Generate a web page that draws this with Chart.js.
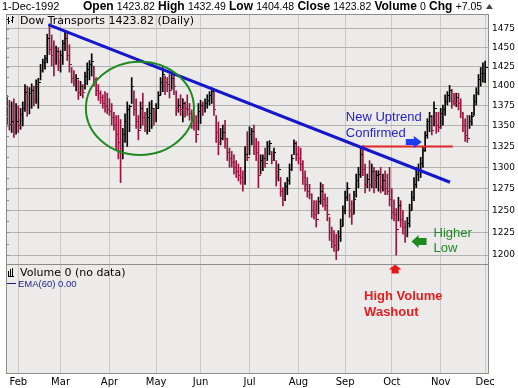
<!DOCTYPE html>
<html>
<head>
<meta charset="utf-8">
<script src="https://cdn.jsdelivr.net/npm/chart.js@4/dist/chart.umd.min.js"></script>
<style>
  html, body { margin: 0; padding: 0; background: #fff; }
  canvas { display: block; }
</style>
</head>
<body>
<canvas id="c" width="518" height="388"></canvas>
<script>
// daily bars, 27-Jan-1992 .. 1-Dec-1992 (index = trading day)
const highs = [
  1388,1382,1380,1384,1378,1375,1372,1380,1402,1400,1398,1403,1400,1408,1410,1428,1435,1440,1468,1481,
  1467,1459,1452,1450,1446,1460,1472,1470,1454,1424,1420,1415,1408,1406,1402,1418,1430,1433,1442,1426,
  1411,1402,1394,1389,1393,1391,1384,1378,1367,1363,1363,1358,1347,1365,1380,1376,1411,1394,1384,1363,
  1380,1391,1367,1372,1380,1382,1372,1378,1393,1411,1424,1413,1411,1415,1418,1415,1394,1384,1389,1384,
  1380,1389,1378,1370,1367,1363,1378,1382,1380,1384,1389,1393,1398,1393,1363,1355,1347,1351,1357,1335,
  1323,1319,1315,1308,1304,1300,1296,1325,1343,1349,1347,1351,1335,1331,1315,1315,1323,1331,1332,1319,
  1323,1308,1304,1288,1276,1282,1288,1304,1315,1333,1331,1325,1323,1308,1296,1288,1280,1269,1261,1261,
  1265,1282,1280,1269,1265,1242,1231,1227,1223,1227,1240,1255,1272,1282,1269,1261,1272,1292,1300,1323,
  1326,1304,1292,1308,1304,1300,1296,1296,1300,1292,1296,1292,1300,1275,1262,1252,1265,1261,1250,1238,
  1242,1257,1272,1288,1300,1304,1312,1325,1343,1359,1367,1363,1380,1367,1367,1372,1376,1389,1393,1401,
  1396,1391,1391,1391,1384,1367,1359,1363,1363,1367,1389,1398,1415,1424,1430,1432.49
];
const lows = [
  1352,1345,1342,1336,1340,1342,1346,1350,1368,1362,1365,1372,1375,1378,1372,1408,1418,1422,1430,1441,
  1426,1413,1428,1420,1418,1428,1446,1433,1418,1404,1400,1394,1383,1388,1385,1396,1402,1408,1413,1400,
  1388,1382,1378,1372,1367,1365,1363,1351,1345,1320,1310,1282,1310,1330,1325,1343,1378,1363,1347,1333,
  1347,1351,1343,1340,1343,1347,1351,1355,1372,1389,1393,1389,1393,1385,1396,1389,1363,1367,1363,1355,
  1361,1363,1357,1347,1345,1330,1345,1353,1363,1367,1372,1376,1378,1363,1330,1315,1327,1333,1323,1308,
  1300,1300,1292,1288,1284,1280,1272,1280,1308,1315,1327,1315,1308,1276,1292,1296,1300,1308,1315,1304,
  1308,1278,1284,1266,1255,1261,1268,1280,1296,1315,1308,1304,1296,1280,1272,1265,1263,1242,1240,1231,
  1246,1257,1254,1250,1238,1216,1208,1204,1195,1206,1215,1232,1246,1261,1242,1234,1246,1265,1276,1288,
  1290,1270,1276,1272,1276,1270,1276,1272,1270,1272,1268,1268,1255,1240,1238,1200,1238,1231,1223,1214,
  1220,1231,1250,1261,1276,1284,1288,1300,1319,1335,1343,1339,1350,1341,1343,1347,1351,1363,1376,1380,
  1372,1376,1374,1370,1360,1343,1331,1330,1347,1351,1363,1376,1389,1400,1405,1404.48
];
const closes = [
  1362,1352,1356,1348,1355,1350,1364,1372,1392,1385,1390,1395,1383,1400,1405,1420,1430,1436,1462,1448,
  1440,1435,1445,1430,1440,1455,1462,1440,1428,1410,1406,1410,1392,1400,1392,1412,1422,1428,1432,1408,
  1395,1390,1386,1378,1374,1370,1368,1360,1350,1340,1330,1322,1340,1355,1370,1374,1400,1370,1355,1345,
  1372,1360,1350,1360,1365,1372,1360,1372,1388,1405,1415,1405,1402,1395,1410,1400,1372,1375,1370,1378,
  1372,1370,1365,1355,1350,1340,1368,1375,1372,1378,1382,1388,1393,1370,1342,1330,1335,1342,1335,1318,
  1310,1306,1300,1295,1290,1288,1282,1315,1312,1340,1343,1325,1318,1290,1308,1310,1305,1325,1328,1308,
  1318,1288,1298,1272,1262,1278,1284,1298,1310,1328,1315,1310,1303,1288,1280,1272,1268,1250,1245,1240,
  1260,1272,1262,1255,1245,1225,1215,1210,1205,1220,1232,1250,1265,1275,1250,1245,1262,1285,1292,1315,
  1298,1280,1286,1280,1295,1285,1290,1292,1278,1285,1275,1272,1262,1248,1245,1228,1255,1240,1230,1222,
  1235,1250,1265,1280,1292,1298,1305,1320,1338,1355,1362,1345,1372,1350,1348,1365,1370,1380,1388,1395,
  1380,1378,1385,1378,1365,1350,1338,1335,1355,1362,1380,1392,1408,1416,1416.77,1423.82
];

const monthIdx = [5, 24, 46, 67, 87, 109, 131, 152, 173, 195, 215];
const monthLbl = ['Feb', 'Mar', 'Apr', 'May', 'Jun', 'Jul', 'Aug', 'Sep', 'Oct', 'Nov', 'Dec'];
const priceTicks = [1200, 1225, 1250, 1275, 1300, 1325, 1350, 1375, 1400, 1425, 1450, 1475];

// annotations, in (bar index, price)
const trendLine = [{ x: 18.5, y: 1481 }, { x: 199.2, y: 1282.4 }];
const confirmLine = [{ x: 159.9, y: 1325 }, { x: 200.4, y: 1325 }];
const circleBox = [35.4, 84.0, 1431.6, 1314.7];
const blueArrowTip = [186.5, 1330.5];
const greenArrowTip = [181.9, 1214.8];
const redArrowX = 174.5;

const UP = '#000000';
const DOWN = '#9a1442';
const isUp = closes.map((c, i) => i > 0 && c > closes[i - 1]);

function tickImg(color) {
  const c = document.createElement('canvas');
  c.width = 5; c.height = 1;
  const g = c.getContext('2d');
  g.fillStyle = color;
  g.fillRect(3, 0, 2, 1);
  return c;
}
const tickUp = tickImg(UP);
const tickDown = tickImg(DOWN);

const panelPlugin = {
  id: 'panels',
  beforeDraw(chart) {
    const { ctx, chartArea: a } = chart;
    ctx.save();
    ctx.fillStyle = '#fff';
    ctx.fillRect(0, 0, chart.width, chart.height);
    ctx.fillStyle = '#ecebea';
    ctx.fillRect(a.left, a.top, a.right - a.left, a.bottom - a.top);
    ctx.restore();
  },
  afterDraw(chart) {
    const { ctx, chartArea: a } = chart;
    const ys = chart.scales.y;
    ctx.save();
    ctx.strokeStyle = '#8c8c8c';
    ctx.lineWidth = 1;
    ctx.strokeRect(a.left + 0.5, a.top + 0.5, a.right - a.left - 1, ys.bottom - a.top);
    ctx.strokeRect(a.left + 0.5, ys.bottom + 0.5, a.right - a.left - 1, a.bottom - ys.bottom - 1);

    // small marks on the left edge of the price pane
    ctx.fillStyle = '#8c8c8c';
    for (let i = 0; i < priceTicks.length; i++) {
      const yy = Math.round(ys.getPixelForValue(priceTicks[i]));
      ctx.fillRect(a.left + 1, yy, 2, 1);
      if (i > 0) {
        const ym = Math.round((yy + ys.getPixelForValue(priceTicks[i - 1])) / 2);
        ctx.fillRect(a.left + 1, ym, 2, 1);
      }
    }

    // header line
    ctx.fillStyle = '#000';
    ctx.textBaseline = 'alphabetic';
    ctx.font = '11px "Liberation Sans", Arial, sans-serif';
    ctx.fillText('1-Dec-1992', 2, 10);
    const parts = [['Open', 1], ['1423.82', 0], ['High', 1], ['1432.49', 0], ['Low', 1], ['1404.48', 0],
      ['Close', 1], ['1423.82', 0], ['Volume', 1], ['0', 0], ['Chg', 1], ['+7.05', 0]];
    let x = 83;
    for (const [t, b] of parts) {
      ctx.font = b ? 'bold 12px "Liberation Sans", Arial, sans-serif' : '10.5px "Liberation Sans", Arial, sans-serif';
      ctx.fillText(t, x, 10);
      x += ctx.measureText(t).width + 3.2;
    }
    ctx.fillStyle = '#444';
    ctx.beginPath();
    ctx.moveTo(x + 0.5, 9); ctx.lineTo(x + 7.5, 9); ctx.lineTo(x + 4, 4); ctx.closePath(); ctx.fill();

    // panel legends
    ctx.fillStyle = '#000';
    ctx.fillRect(8, 17, 1, 7); ctx.fillRect(7, 19, 1, 1); ctx.fillRect(9, 21, 1, 1);
    ctx.fillRect(12, 16, 1, 7); ctx.fillRect(11, 20, 1, 1); ctx.fillRect(13, 17, 1, 1);
    ctx.font = '11px "DejaVu Sans", sans-serif';
    ctx.fillText('Dow Transports 1423.82 (Daily)', 20, 24);
    const vt = ys.bottom;
    ctx.fillRect(8, vt + 7, 1, 5); ctx.fillRect(10, vt + 5, 1, 7); ctx.fillRect(12, vt + 4, 1, 8); ctx.fillRect(8, vt + 12, 6, 1);
    ctx.fillText('Volume 0 (no data)', 20, vt + 12);
    ctx.fillStyle = '#1c1c8c';
    ctx.fillRect(7, vt + 19, 9, 1);
    ctx.font = '9.5px "Liberation Sans", Arial, sans-serif';
    ctx.fillText('EMA(60) 0.00', 18, vt + 23);
    ctx.restore();
  }
};

function arrow(ctx, tipX, tipY, dir, len, headLen, headW, shaftW, color) {
  // dir: 'right' | 'left' | 'up'
  ctx.save();
  ctx.translate(tipX, tipY);
  ctx.rotate(dir === 'right' ? 0 : dir === 'left' ? Math.PI : -Math.PI / 2);
  ctx.fillStyle = color;
  ctx.beginPath();
  ctx.moveTo(0, 0);
  ctx.lineTo(-headLen, -headW / 2);
  ctx.lineTo(-headLen, -shaftW / 2);
  ctx.lineTo(-len, -shaftW / 2);
  ctx.lineTo(-len, shaftW / 2);
  ctx.lineTo(-headLen, shaftW / 2);
  ctx.lineTo(-headLen, headW / 2);
  ctx.closePath();
  ctx.fill();
  ctx.restore();
}

const notesPlugin = {
  id: 'notes',
  afterDatasetsDraw(chart) {
    const { ctx } = chart;
    const xs = chart.scales.x, ys = chart.scales.y;
    ctx.save();
    // circle round the spring congestion
    const x0 = xs.getPixelForValue(circleBox[0]), x1 = xs.getPixelForValue(circleBox[1]);
    const y0 = ys.getPixelForValue(circleBox[2]), y1 = ys.getPixelForValue(circleBox[3]);
    ctx.strokeStyle = '#1f8a1f';
    ctx.lineWidth = 2;
    ctx.beginPath();
    ctx.ellipse((x0 + x1) / 2, (y0 + y1) / 2, (x1 - x0) / 2, (y1 - y0) / 2, 0, 0, Math.PI * 2);
    ctx.stroke();

    const bx = xs.getPixelForValue(blueArrowTip[0]), by = ys.getPixelForValue(blueArrowTip[1]);
    arrow(ctx, bx, by, 'right', 16, 8, 12, 6, '#1e3cf0');
    ctx.fillStyle = '#2424c4';
    ctx.font = '13px "Liberation Sans", Arial, sans-serif';
    ctx.fillText('New Uptrend', bx - 76, by - 21);
    ctx.fillText('Confirmed', bx - 76, by - 5);

    const gx = xs.getPixelForValue(greenArrowTip[0]), gy = ys.getPixelForValue(greenArrowTip[1]);
    arrow(ctx, gx, gy, 'left', 15, 7, 13, 7, '#1f8a1f');
    ctx.fillStyle = '#1f8a1f';
    ctx.fillText('Higher', gx + 22, gy - 5);
    ctx.fillText('Low', gx + 22, gy + 10);

    const rx = xs.getPixelForValue(redArrowX), ry = ys.bottom + 0.5;
    arrow(ctx, rx, ry, 'up', 9, 5, 13, 7, '#e81818');
    ctx.fillStyle = '#e41c1c';
    ctx.font = 'bold 13px "Liberation Sans", Arial, sans-serif';
    ctx.fillText('High Volume', rx - 31, ry + 35);
    ctx.fillText('Washout', rx - 31, ry + 51);
    ctx.restore();
  }
};

new Chart(document.getElementById('c'), {
  type: 'bar',
  data: {
    datasets: [
      {
        type: 'line',
        data: trendLine,
        borderColor: '#1616cc',
        borderWidth: 3,
        pointRadius: 0,
        order: 0
      },
      {
        type: 'line',
        data: confirmLine,
        borderColor: '#e02626',
        borderWidth: 2,
        pointRadius: 0,
        order: 0
      },
      {
        type: 'line',
        showLine: false,
        data: closes.map((c, i) => ({ x: i, y: c })),
        pointStyle: ctx => (isUp[ctx.dataIndex] ? tickUp : tickDown),
        pointRadius: 1,
        order: 1
      },
      {
        data: highs.map((h, i) => ({ x: i, y: [lows[i], h] })),
        backgroundColor: ctx => (isUp[ctx.dataIndex] ? UP : DOWN),
        barThickness: 1,
        order: 2
      }
    ]
  },
  options: {
    responsive: false,
    animation: false,
    events: [],
    layout: { padding: { left: 6, top: 14, right: 0, bottom: 0 } },
    plugins: { legend: { display: false }, tooltip: { enabled: false } },
    scales: {
      x: {
        type: 'linear',
        min: -0.54,
        max: 216.73,
        offset: false,
        grid: { color: '#c8c8c8', drawTicks: false, offset: false },
        border: { display: false },
        ticks: {
          autoSkip: false,
          maxRotation: 0,
          padding: 2,
          color: '#000',
          font: { family: 'DejaVu Sans', size: 10 },
          callback: v => monthLbl[monthIdx.indexOf(v)]
        },
        afterBuildTicks: s => { s.ticks = monthIdx.map(v => ({ value: v })); },
        afterFit: s => { s.height = 14; }
      },
      y: {
        type: 'logarithmic',
        position: 'right',
        stack: 'panes',
        stackWeight: 250,
        weight: 0,
        min: 1190.2,
        max: 1495.3,
        grid: { color: '#b2b2b2', drawTicks: false },
        border: { display: false },
        ticks: {
          autoSkip: false,
          padding: 3,
          color: '#000',
          font: { family: 'DejaVu Sans', size: 9 },
          callback: v => String(v)
        },
        afterBuildTicks: s => { s.ticks = priceTicks.map(v => ({ value: v })); },
        afterFit: s => { s.width = 29; }
      },
      vol: {
        type: 'linear',
        position: 'right',
        stack: 'panes',
        stackWeight: 110,
        weight: 1,
        min: 0,
        max: 1,
        grid: { display: false },
        border: { display: false },
        ticks: { display: false },
        afterFit: s => { s.width = 29; }
      }
    }
  },
  plugins: [panelPlugin, notesPlugin]
});
</script>
</body>
</html>
